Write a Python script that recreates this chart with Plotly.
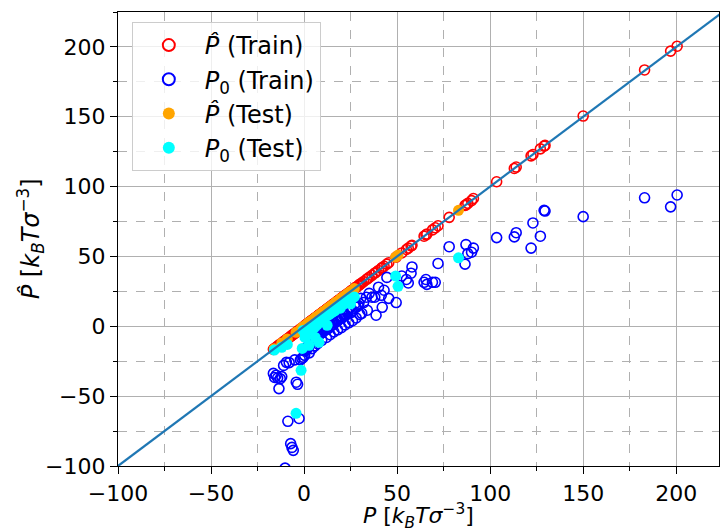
import plotly.graph_objects as go

# ---------------- data ----------------
# Training set: true pressure P, model prediction P_hat, baseline P0
train_P = [200.5, 197, 183, 150, 129.5, 129, 127, 123, 122, 114, 113, 103.5,
           91, 90, 88, 87, 86.5, 78, 72, 70.5, 69, 66, 65.5, 64.5, 58, 57.5,
           56, 55, 52.5, 49.5, 45.5, 44.5, 43, 42, 41.5, 40, 38.7, 38, 36.5,
           35, 34, 33.5, 32, 31, 30.5, 29.5, 29, 28, 27.5, 26, 25.5, 25, 24,
           23, 22, 21, 20, 19, 18, 17, 16, 15, 14, 13, 12, 11, 10, 9.3, 8.5,
           7.8, 7, 6.3, 5.5, 4.8, 4, 3.3, 2.5, 1.8, 1, 0.3, -0.5, -1.2, -2,
           -2.7, -3.5, -4.2, -5, -5.8, -6.5, -7.2, -8, -8.7, -9.5, -10.2, -11,
           -12, -12.8, -13.5, -14.2, -15, -15.8, -16.5,
           0.8, 1.5, 2.2, 3, 3.8, 4.5, 5.2, 6, 6.8, 7.5, 8.2, 9, 9.8, 10.5,
           11.5, 12.5, 13.5, 14.5, 15.5, 16.5, 17.5, 18.5, 19.5, 20.5, 21.5,
           22.5, 2.8, 4.2, 5.8, 7.2, 9.5, 12, 14, 16, 18, 20, 22, 24, 26, 28, 30]
train_Phat = [200.5, 197, 183.5, 150.5, 129.5, 129, 127, 123, 122, 114, 113, 103.5,
              91.5, 90, 88, 87, 86.5, 78, 72, 70.5, 69, 66, 65.5, 64.5, 58, 57.5,
              56, 55, 52.5, 49.5, 45.5, 44.5, 43, 42, 41.5, 40, 38.7, 38, 36.5,
              35, 34, 33.5, 32, 31, 30.5, 29.5, 29, 28, 27.5, 26, 25.5, 25, 24,
              23, 22, 21, 20, 19, 18, 17, 16, 15, 14, 13, 12, 11, 10, 9.3, 8.5,
              7.8, 7, 6.3, 5.5, 4.8, 4, 3.3, 2.5, 1.8, 1, 0.3, -0.5, -1.2, -2,
              -2.7, -3.5, -4.2, -5, -5.8, -6.5, -7.2, -8, -8.7, -9.5, -10.2, -11,
              -12, -12.8, -13.5, -14.2, -15, -15.8, -16.5,
              0.8, 1.5, 2.2, 3, 3.8, 4.5, 5.2, 6, 6.8, 7.5, 8.2, 9, 9.8, 10.5,
              11.5, 12.5, 13.5, 14.5, 15.5, 16.5, 17.5, 18.5, 19.5, 20.5, 21.5,
              22.5, 2.8, 4.2, 5.8, 7.2, 9.5, 12, 14, 16, 18, 20, 22, 24, 26, 28, 30]
train_P0 = [94, 85.5, 92, 78.5, 82.5, 83, 64.5, 74, 56, 67, 64, 63.5,
            56, 53, 52, 58.5, 44.5, 57, 45, 31.5, 31.5, 30, 33.5, 31.5, 42.5, 38,
            31, 33.5, 36, 17, 20, 35, 25.8, 13.6, 22.2, 28, 7.9, 20.8, 20.8,
            23.6, 11.5, 20.8, 17, 9.3, 20, 16.5, 15, 13.6, 16.5, 11, 10, 13.6, 12,
            10, 7.9, 9, 6, 7, 4.3, 5, 2.9, 3.5, 2, 1.5, -0.7, 0, -2, -1.5, -4.3,
            -3, -5, -6.4, -9, -8, -12, -10, -14, -16, -17.2, -20.8, -22.2, -23, -24,
            -66, -41.5, -40, -24, -88.8, -86.7, -84, -26, -68, -25.8, -101.5, -28,
            -36, -37.5, -44.6, -37, -35, -36.6, -33.7,
            -17, -15, -14.5, -12, -11.5, -10, -10.5, -8.5, -9, -7, -6, -5, -4.5, -3.5,
            -2.5, -2, -1, 0.5, 1, 2.5, 3.5, 4.5, 5.5, 6, 7.5,
            8, -19, -16, -14, -12.5, -10, -8, -6, -4, -2.5, -1, 1, 2.5, 4, 6, 8.5]

# Test set
test_P = [83, 50.5, 49.2, 27, 25, 24, 23, 21.5, 19.5, 18, 16.5, 15, 13, 12.4,
          11, 9, 8, 7, 6, 5.5, 4, 2.7, 2, 0.5, -0.5, -1, -1.6, -4.3, -9, -12, -16,
          10, 14, 17, 20, 3, 6.5]
test_P0 = [49, 28.6, 36, 21, 16, 19, 18, 16, 13, 14, 11, 10, 8, 0.7,
           6, 4, -11.5, 1, -8, -1, -3, -13.6, -2, -8, -3, -15.8, -31.5, -62.3,
           -13, -15, -17,
           5, 9, 13, 15.5, -1, 2]
test_Phat = [83, 51, 49.5, 27, 25, 24, 23, 21.5, 19.5, 18, 16.5, 15, 13, 12.4,
             11, 9, 8, 7, 6, 5.5, 4, 2.7, 2, 0.5, -0.5, -1, -1.6, -4.3, -9, -12, -16,
             10, 14, 17, 20, 3, 6.5]

diag = [-100, 230]

x_ticks = [-100, -50, 0, 50, 100, 150, 200]
y_ticks = [-100, -50, 0, 50, 100, 150, 200]

UNITS = "<i>k</i><sub><i>B</i></sub><i>Tσ</i><sup>−3</sup>"
x_title = "<i>P</i> [" + UNITS + "]"
y_title = "<i>P&#770;</i> [" + UNITS + "]"

# ---------------- figure ----------------
FONT = "DejaVu Sans"
fig = go.Figure()

fig.add_trace(go.Scatter(
    x=train_P, y=train_Phat, mode="markers", name="<i>P&#770;</i> (Train)",
    marker=dict(symbol="circle-open", size=10, color="red", line=dict(width=1.6, color="red")),
))
fig.add_trace(go.Scatter(
    x=train_P, y=train_P0, mode="markers", name="<i>P</i><sub>0</sub> (Train)",
    marker=dict(symbol="circle-open", size=10, color="blue", line=dict(width=1.6, color="blue")),
))
fig.add_trace(go.Scatter(
    x=test_P, y=test_Phat, mode="markers", name="<i>P&#770;</i> (Test)",
    marker=dict(symbol="circle", size=11, color="orange", line=dict(width=0)),
))
fig.add_trace(go.Scatter(
    x=test_P, y=test_P0, mode="markers", name="<i>P</i><sub>0</sub> (Test)",
    marker=dict(symbol="circle", size=11, color="cyan", line=dict(width=0)),
))
fig.add_trace(go.Scatter(
    x=diag, y=diag, mode="lines", showlegend=False,
    line=dict(color="#1f77b4", width=2.2),
))

axis_common = dict(
    showline=True, linecolor="black", linewidth=1.2, mirror=True,
    ticks="outside", ticklen=7, tickwidth=1.2, tickcolor="black",
    showgrid=True, gridcolor="#b0b0b0", gridwidth=1.2,
    zeroline=False, automargin=False,
    tickfont=dict(family=FONT, size=22, color="black"),
    minor=dict(dtick=25, showgrid=True, gridcolor="#b0b0b0", griddash="dash",
               gridwidth=1, ticks="outside", ticklen=4, tickcolor="black"),
)

fig.update_layout(
    width=720, height=531,
    margin=dict(l=118, r=1, t=12, b=65),
    paper_bgcolor="white", plot_bgcolor="white",
    font=dict(family=FONT, size=22, color="black"),
    xaxis=dict(range=[-100, 223], tickvals=x_ticks,
               ticktext=[("\u2212" + str(-v)) if v < 0 else str(v) for v in x_ticks],
               **axis_common),
    yaxis=dict(range=[-100, 225], tickvals=y_ticks,
               ticktext=[("\u2212" + str(-v)) if v < 0 else str(v) for v in y_ticks],
               **axis_common),
    legend=dict(x=0.023, y=0.978, xanchor="left", yanchor="top",
                bgcolor="rgba(255,255,255,0.8)", bordercolor="#cccccc", borderwidth=1,
                font=dict(family=FONT, size=24), itemsizing="constant",
                itemwidth=62, tracegroupgap=0),
    showlegend=True,
    annotations=[
        dict(text=x_title, xref="paper", yref="paper", x=0.5, y=-0.110,
             xanchor="center", yanchor="middle", showarrow=False,
             font=dict(family=FONT, size=22, color="black")),
        dict(text=y_title, xref="paper", yref="paper", x=-0.146, y=0.5,
             xanchor="center", yanchor="middle", showarrow=False, textangle=-90,
             font=dict(family=FONT, size=24, color="black")),
    ],
)

fig.write_html("out.html")
